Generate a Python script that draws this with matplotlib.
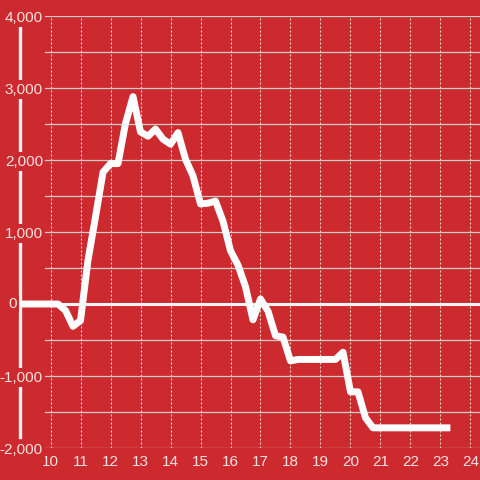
import matplotlib
matplotlib.use('Agg')
import matplotlib.pyplot as plt
from matplotlib.lines import Line2D
from matplotlib.ticker import FuncFormatter
import matplotlib.transforms as mtransforms

plt.rcParams['font.family'] = ['Liberation Sans', 'DejaVu Sans']

# hour of day vs running value
hours = [9.0, 10.25, 10.5, 10.75, 11.0, 11.25, 11.5, 11.75, 12.0, 12.25,
         12.5, 12.75, 13.0, 13.25, 13.5, 13.75, 14.0, 14.25, 14.5, 14.75,
         15.0, 15.25, 15.5, 15.75, 16.0, 16.25, 16.5, 16.75, 17.0, 17.25,
         17.5, 17.75, 18.0, 18.25, 19.5, 19.75, 20.0, 20.25, 20.5, 20.75,
         23.33]
values = [0, 0, -90, -310, -230, 610, 1210, 1830, 1950, 1950,
          2510, 2880, 2390, 2330, 2430, 2290, 2220, 2380, 2010, 1780,
          1390, 1400, 1430, 1150, 740, 540, 240, -220, 70, -100,
          -440, -460, -790, -770, -770, -670, -1220, -1220, -1580, -1720,
          -1720]

x_ticks = list(range(10, 25))
y_ticks = [-2000, -1000, 0, 1000, 2000, 3000, 4000]
y_minor = [-1500, -500, 500, 1500, 2500, 3500]

bg = '#cc2a2e'
txt = '#f6e2e2'

fig = plt.figure(figsize=(4.8, 4.8), dpi=100, facecolor=bg)
ax = fig.add_axes([20 / 480, 32 / 480, 460 / 480, 432 / 480])
ax.set_facecolor(bg)
ax.set_axisbelow(True)

ax.set_xlim(8.983, 24.317)
ax.set_ylim(-2000, 4000)

for s in ax.spines.values():
    s.set_visible(False)

# horizontal grid, starts a bit right of the axis line
gx0 = 25 / 460
for v in y_ticks + y_minor:
    ax.axhline(v, xmin=gx0, xmax=1, color='#d4cccc', lw=0.9, zorder=0.6)

# dotted vertical grid
for h in x_ticks:
    ax.axvline(h, color='#eed8d8', lw=0.8, dashes=(1.8, 1.8), zorder=0.6)

# zero line
ax.axhline(0, color='#f4f4f4', lw=2.2, zorder=1)

# y axis line
ax.add_line(Line2D([0.001, 0.001], [0.0255, 0.981], transform=ax.transAxes,
                   color='#f2f2f2', lw=2.4, clip_on=False, zorder=0.3))

ax.plot(hours, values, color='white', lw=5, solid_joinstyle='round',
        solid_capstyle='butt', zorder=3)

ax.set_xticks(x_ticks)
ax.set_yticks(y_ticks)
ax.yaxis.set_major_formatter(FuncFormatter(lambda v, p: '' if v == 0 else f'{v:,.0f}'))
ax.tick_params(axis='x', length=0, pad=5, labelsize=11, labelcolor=txt)
ax.tick_params(axis='y', length=0, pad=-16.5, labelsize=11, labelcolor=txt)
for lab in ax.get_yticklabels():
    lab.set_bbox(dict(boxstyle='square,pad=0.15', fc=bg, ec='none'))

tr = mtransforms.blended_transform_factory(ax.transAxes, ax.transData)
ax.text(-12 / 460, 0, '0', transform=tr, ha='left', va='center', fontsize=11,
        color=txt, bbox=dict(boxstyle='square,pad=0.15', fc=bg, ec='none'),
        zorder=0.5)

fig.savefig('out.png', dpi=100, facecolor=bg)
